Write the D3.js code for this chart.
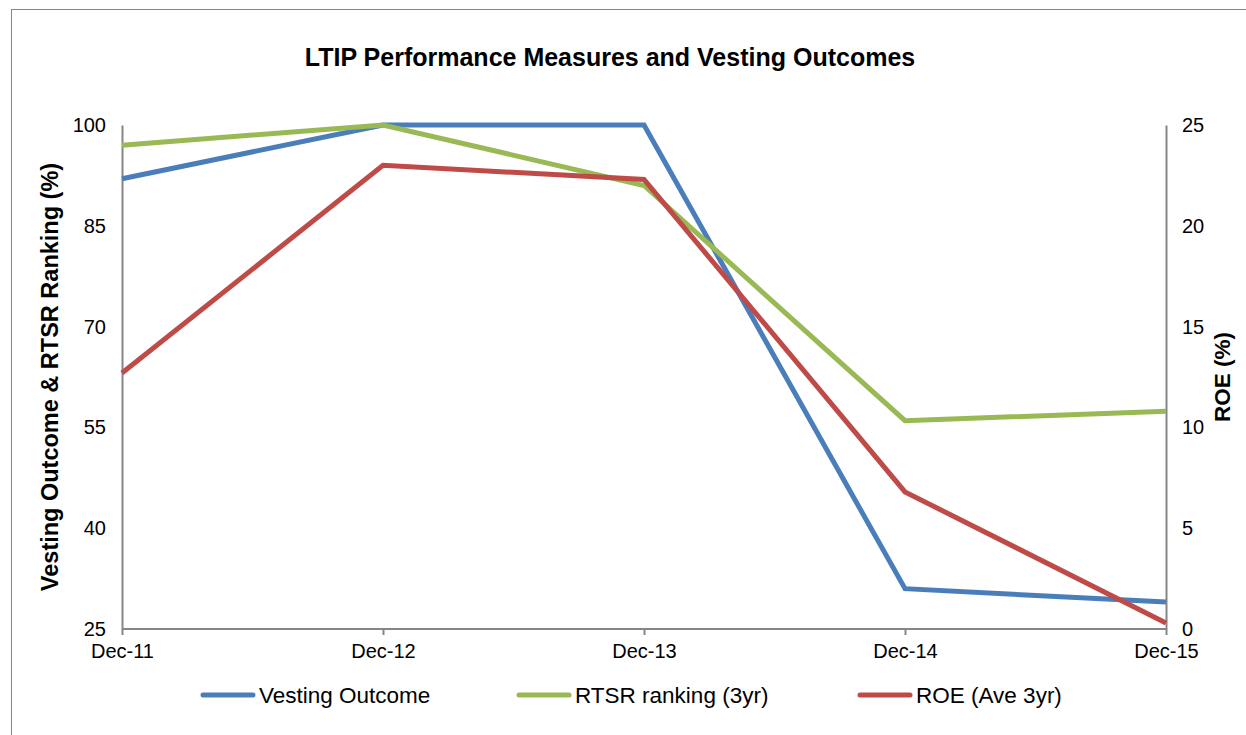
<!DOCTYPE html>
<html>
<head>
<meta charset="utf-8">
<script src="https://cdn.jsdelivr.net/npm/d3@7"></script>
<style>
  body { margin: 0; background: #fff; }
  svg { font-family: Arial, "Liberation Sans", sans-serif; }
</style>
</head>
<body>
<div id="chart"></div>
<script>
// chart data
var categories = ["Dec-11", "Dec-12", "Dec-13", "Dec-14", "Dec-15"];
var vesting = [92, 100, 100, 31, 29];
var rtsr = [97, 100, 91, 56, 57.4];
var roe = [12.7, 23.0, 22.3, 6.8, 0.3];
var leftTicks = [25, 40, 55, 70, 85, 100];
var rightTicks = [0, 5, 10, 15, 20, 25];

var W = 1246, H = 735;
var margin = {top: 125, right: 80, bottom: 106, left: 122},
    width = W - margin.left - margin.right,
    height = H - margin.top - margin.bottom;

var svg = d3.select("#chart")
  .append("svg")
    .attr("width", W)
    .attr("height", H);

// outer frame
svg.append("rect")
  .attr("x", 11.5).attr("y", 9.5)
  .attr("width", W + 20).attr("height", H + 20)
  .attr("fill", "none")
  .attr("stroke", "#868686")
  .attr("stroke-width", 1);

svg.append("text")
  .attr("x", 610).attr("y", 66)
  .attr("text-anchor", "middle")
  .style("font-size", "25px")
  .style("font-weight", "bold")
  .text("LTIP Performance Measures and Vesting Outcomes");

var g = svg.append("g")
  .attr("transform", "translate(" + margin.left + "," + margin.top + ")");

var x = d3.scalePoint()
  .domain(categories)
  .range([0, width]);

var yL = d3.scaleLinear().domain([25, 100]).range([height, 0]);
var yR = d3.scaleLinear().domain([0, 25]).range([height, 0]);

// axes
var xAxis = g.append("g")
  .attr("transform", "translate(0," + height + ")")
  .call(d3.axisBottom(x).tickSize(6).tickPadding(9));
var leftAxis = g.append("g")
  .call(d3.axisLeft(yL).tickValues(leftTicks).tickSize(0).tickPadding(16));
var rightAxis = g.append("g")
  .attr("transform", "translate(" + width + ",0)")
  .call(d3.axisRight(yR).tickValues(rightTicks).tickSize(0).tickPadding(16));

[xAxis, leftAxis, rightAxis].forEach(function(a) {
  a.select(".domain").attr("stroke", "#868686").attr("stroke-width", 2);
  a.selectAll(".tick line").attr("stroke", "#868686").attr("stroke-width", 2);
  a.selectAll("text").style("font-size", "20px").attr("fill", "#000");
});
xAxis.select(".domain").attr("d", "M0,0H" + width);

// axis titles
svg.append("text")
  .attr("transform", "translate(58," + (margin.top + height / 2) + ") rotate(-90)")
  .attr("text-anchor", "middle")
  .style("font-size", "23.5px")
  .style("font-weight", "bold")
  .text("Vesting Outcome & RTSR Ranking (%)");

svg.append("text")
  .attr("transform", "translate(1230," + (margin.top + height / 2) + ") rotate(-90)")
  .attr("text-anchor", "middle")
  .style("font-size", "22.5px")
  .style("font-weight", "bold")
  .text("ROE (%)");

var series = [
  {name: "Vesting Outcome", values: vesting, scale: yL, color: "#4a7ebb"},
  {name: "RTSR ranking (3yr)", values: rtsr, scale: yL, color: "#98b954"},
  {name: "ROE (Ave 3yr)", values: roe, scale: yR, color: "#be4b48"}
];

series.forEach(function(s) {
  var line = d3.line()
    .x(function(d, i) { return x(categories[i]); })
    .y(function(d) { return s.scale(d); });
  g.append("path")
    .datum(s.values)
    .attr("fill", "none")
    .attr("stroke", s.color)
    .attr("stroke-width", 5)
    .attr("stroke-linejoin", "miter")
    .attr("d", line);
});

// legend
var legendX = [203, 519, 860];
series.forEach(function(s, i) {
  var lg = svg.append("g").attr("transform", "translate(" + legendX[i] + ",695)");
  lg.append("line")
    .attr("x1", 0).attr("x2", 50)
    .attr("stroke", s.color)
    .attr("stroke-width", 5)
    .attr("stroke-linecap", "round");
  lg.append("text")
    .attr("x", 56).attr("y", 8)
    .style("font-size", "22.5px")
    .text(s.name);
});
</script>
</body>
</html>
